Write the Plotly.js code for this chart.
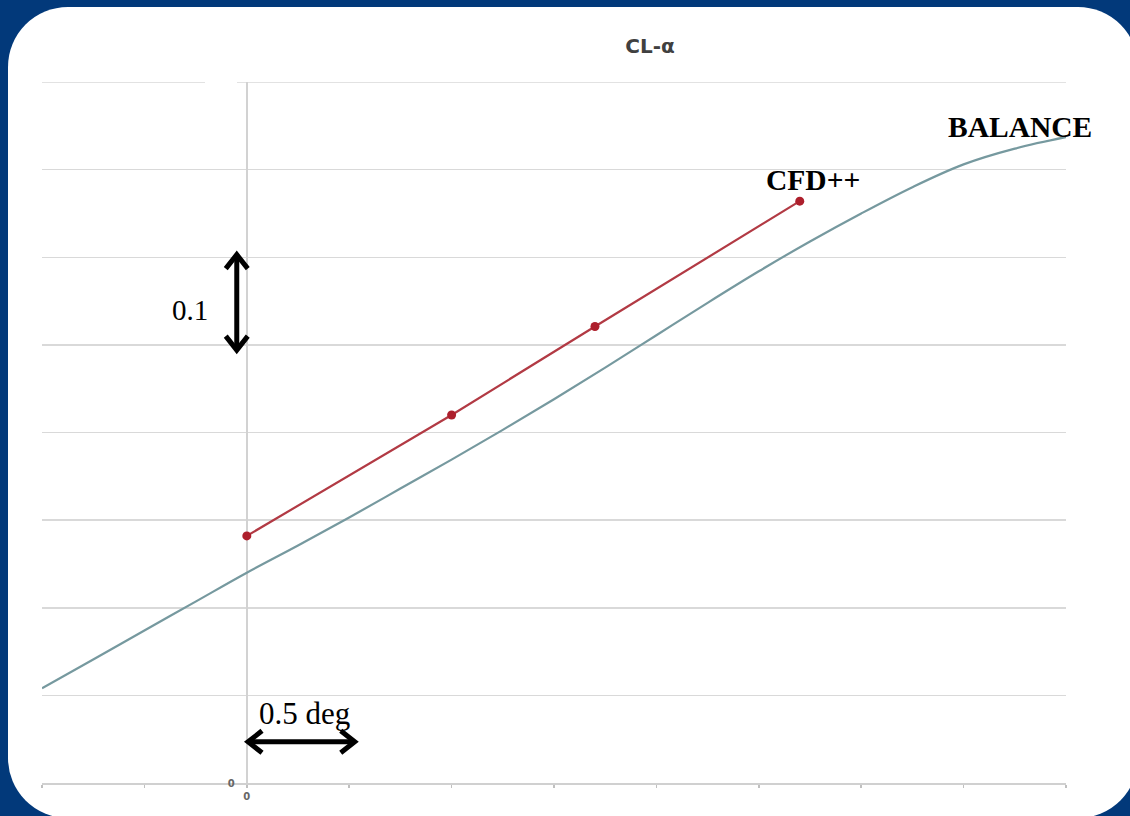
<!DOCTYPE html>
<html>
<head>
<meta charset="utf-8">
<script src="https://cdn.plot.ly/plotly-3.0.1.min.js"></script>
<style>
  html, body { margin:0; padding:0; width:1130px; height:816px; overflow:hidden; background:#02397a; }
  #frame { position:absolute; left:8px; top:7px; width:1130px; height:811px; background:#ffffff; border-radius:60px; }
  #chart { position:absolute; left:0; top:0; width:1130px; height:816px; }
</style>
</head>
<body>
<div id="frame"></div>
<div id="chart"></div>
<script>
// ---- data ----
const balanceAlpha = [-1.0,-0.75,-0.5,-0.25,0,0.25,0.5,0.75,1.0,1.25,1.5,1.75,2.0,2.25,2.5,2.75,3.0,3.25,3.5,3.75,4.0];
const balanceCL    = [0.108,0.141,0.174,0.207,0.240,0.271,0.303,0.336,0.369,0.403,0.438,0.474,0.511,0.548,0.584,0.618,0.650,0.680,0.706,0.724,0.737];
const cfdAlpha = [0, 1.0, 1.7, 2.7];
const cfdCL    = [0.282, 0.420, 0.521, 0.664];
const xTickVals = [-1,-0.5,0,0.5,1,1.5,2,2.5,3,3.5,4];
const xTickText = ['','','<b>0</b>','','','','','','','',''];
const yTickVals = [0,0.1,0.2,0.3,0.4,0.5,0.6,0.7];
const yTickText = ['<b>0</b>','','','','','','',''];
const yTop = 0.8;
const chartTitle = 'CL-α';
const labelBalance = 'BALANCE';
const labelCFD = 'CFD++';
const labelDy = '0.1';
const labelDx = '0.5 deg';

// ---- layout geometry ----
const W = 1130, H = 816;
const M = {l:42, r:64, t:82, b:33};
const xRange = [-1, 4], yRange = [0, yTop];
const pxX = (W - M.l - M.r) / (xRange[1]-xRange[0]);
const pxY = (H - M.t - M.b) / (yRange[1]-yRange[0]);
const dX = p => p / pxX;   // pixels -> alpha units
const dY = p => p / pxY;   // pixels -> CL units

// scale-indicator arrows (data units)
const vArrow = {x:-0.049, y0:0.494, y1:0.603};
const hArrow = {y:0.047, x0:0.006, x1:0.527};
const headW = 11, headL = 14;

function vArrowShapes(a){
  const s = {type:'path', xref:'x', yref:'y', line:{color:'#000', width:5}, layer:'above'};
  return [
    Object.assign({}, s, {path:`M ${a.x},${a.y0} L ${a.x},${a.y1}`}),
    Object.assign({}, s, {path:`M ${a.x-dX(headW)},${a.y1-dY(headL)} L ${a.x},${a.y1} L ${a.x+dX(headW)},${a.y1-dY(headL)}`}),
    Object.assign({}, s, {path:`M ${a.x-dX(headW)},${a.y0+dY(headL)} L ${a.x},${a.y0} L ${a.x+dX(headW)},${a.y0+dY(headL)}`})
  ];
}
function hArrowShapes(a){
  const s = {type:'path', xref:'x', yref:'y', line:{color:'#000', width:5}, layer:'above'};
  return [
    Object.assign({}, s, {path:`M ${a.x0},${a.y} L ${a.x1},${a.y}`}),
    Object.assign({}, s, {path:`M ${a.x0+dX(headL)},${a.y+dY(headW)} L ${a.x0},${a.y} L ${a.x0+dX(headL)},${a.y-dY(headW)}`}),
    Object.assign({}, s, {path:`M ${a.x1-dX(headL)},${a.y+dY(headW)} L ${a.x1},${a.y} L ${a.x1-dX(headL)},${a.y-dY(headW)}`})
  ];
}
// top gridline (at the range edge), drawn in two pieces like the reference
const topGrid = [
  {type:'line', xref:'paper', yref:'y', x0:0, x1:(205-M.l)/(W-M.l-M.r), y0:yTop, y1:yTop, line:{color:'#d9d9d9', width:1.5}, layer:'below'},
  {type:'line', xref:'paper', yref:'y', x0:(237-M.l)/(W-M.l-M.r), x1:1, y0:yTop, y1:yTop, line:{color:'#d9d9d9', width:1.5}, layer:'below'}
];

const traces = [
  {x:balanceAlpha, y:balanceCL, type:'scatter', mode:'lines', name:'BALANCE',
   line:{color:'#76999f', width:2.2, shape:'spline', smoothing:1}, hoverinfo:'skip'},
  {x:cfdAlpha, y:cfdCL, type:'scatter', mode:'lines+markers', name:'CFD++',
   line:{color:'#b23a44', width:2.2}, marker:{color:'#ad1f2c', size:9}, hoverinfo:'skip'}
];

const serifBold = {family:'"Liberation Serif", "Times New Roman", serif', size:29.5, color:'#000'};
const serifReg  = {family:'"Liberation Serif", "Times New Roman", serif', size:29, color:'#000'};
const serifReg2 = {family:'"Liberation Serif", "Times New Roman", serif', size:31, color:'#000'};

const layout = {
  width:W, height:H,
  margin:M,
  paper_bgcolor:'rgba(0,0,0,0)',
  plot_bgcolor:'rgba(0,0,0,0)',
  showlegend:false,
  title:{text:'<b>'+chartTitle+'</b>', x:650/W, xref:'container', xanchor:'center',
         y:1-46/H, yref:'container', yanchor:'middle',
         font:{family:'"DejaVu Sans", sans-serif', size:20, color:'#404040'}},
  xaxis:{range:xRange, fixedrange:true, showgrid:false,
         zeroline:true, zerolinecolor:'#d2d2d2', zerolinewidth:1.5,
         showline:true, linecolor:'#d0d0d0', linewidth:1.5,
         ticks:'outside', ticklen:3, tickcolor:'#c0c0c0', tickwidth:1.5,
         tickmode:'array', tickvals:xTickVals, ticktext:xTickText,
         tickfont:{family:'"DejaVu Sans", sans-serif', size:10, color:'#666'}},
  yaxis:{range:yRange, fixedrange:true, anchor:'free', position:(0-xRange[0])/(xRange[1]-xRange[0]),
         showgrid:true, gridcolor:'#d9d9d9', gridwidth:1.5,
         zeroline:false, showline:false, ticks:'', ticklabelstandoff:12,
         tickmode:'array', tickvals:yTickVals, ticktext:yTickText,
         tickfont:{family:'"DejaVu Sans", sans-serif', size:10, color:'#666'}},
  shapes:[].concat(topGrid, vArrowShapes(vArrow), hArrowShapes(hArrow)),
  annotations:[
    {text:'<b>'+labelBalance+'</b>', x:3.774, y:0.749, xref:'x', yref:'y', showarrow:false, font:serifBold, xanchor:'center', yanchor:'middle'},
    {text:'<b>'+labelCFD+'</b>', x:2.764, y:0.688, xref:'x', yref:'y', showarrow:false, font:serifBold, xanchor:'center', yanchor:'middle'},
    {text:labelDy, x:-0.278, y:0.540, xref:'x', yref:'y', showarrow:false, font:serifReg, xanchor:'center', yanchor:'middle'},
    {text:labelDx, x:0.28, y:0.079, xref:'x', yref:'y', showarrow:false, font:serifReg2, xanchor:'center', yanchor:'middle'}
  ]
};

Plotly.newPlot('chart', traces, layout, {displayModeBar:false, staticPlot:true});
</script>
</body>
</html>
